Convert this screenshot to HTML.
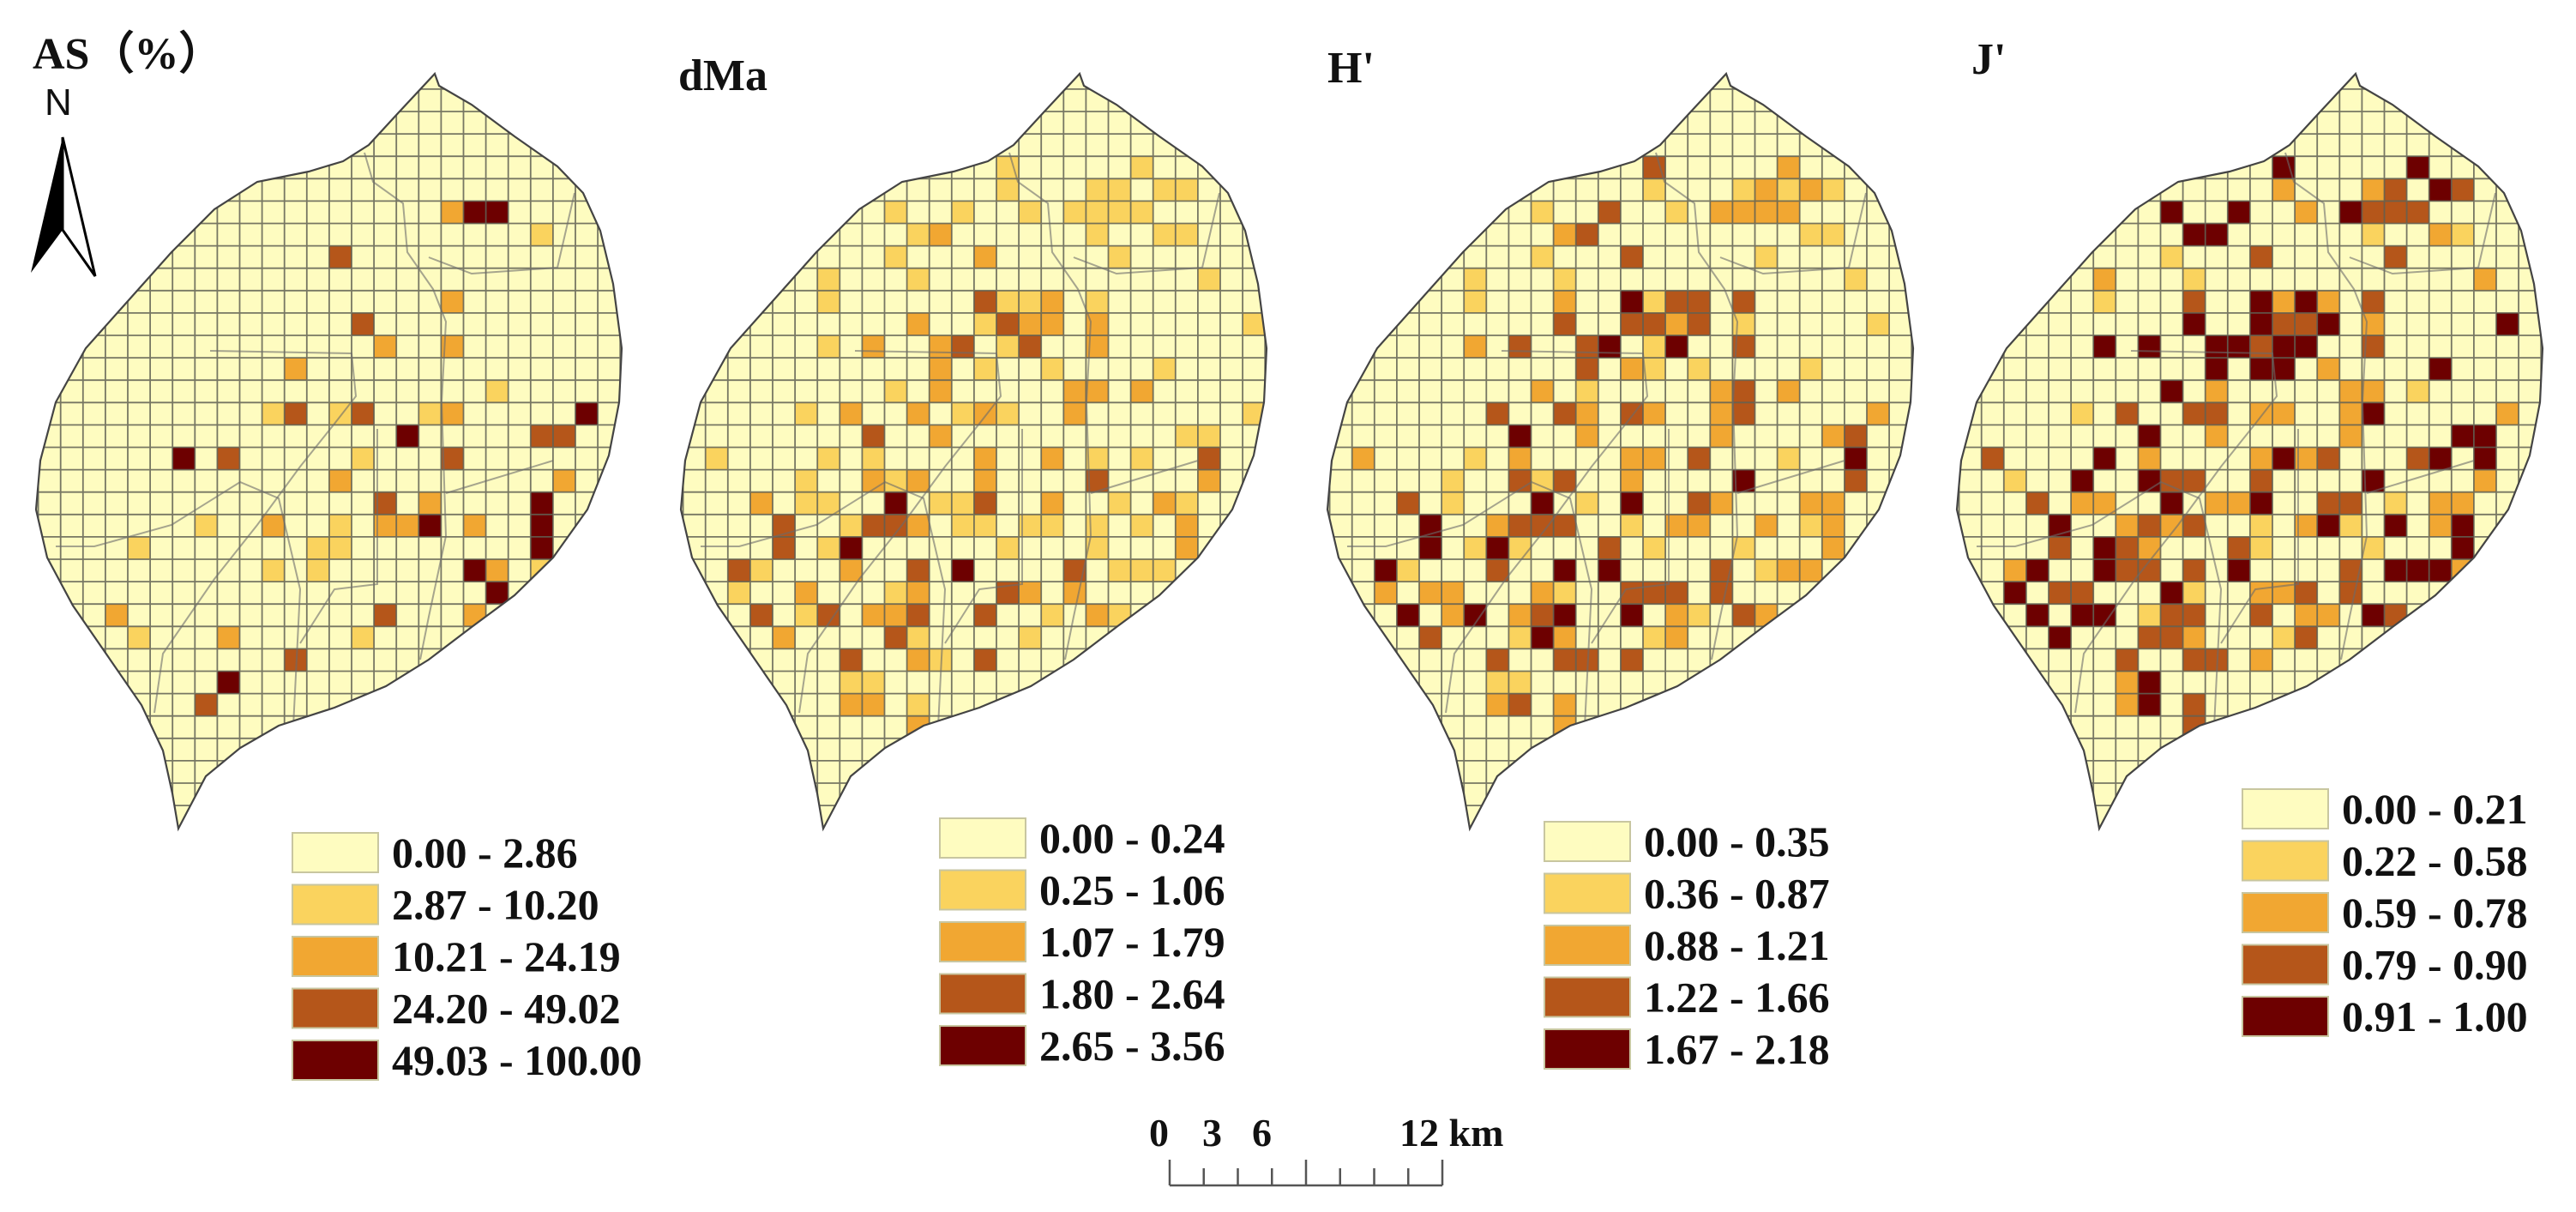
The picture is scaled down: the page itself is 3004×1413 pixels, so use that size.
<!DOCTYPE html>
<html><head><meta charset="utf-8"><title>Grid maps</title>
<style>html,body{margin:0;padding:0;background:#fff}svg{display:block}
text{font-family:"Liberation Serif",serif;font-weight:bold;fill:#111}</style></head>
<body>
<svg id="fig" xmlns="http://www.w3.org/2000/svg" width="3004" height="1413" viewBox="0 0 3004 1413">
<rect width="3004" height="1413" fill="#fff"/>
<g id="maps"></g>
<g id="legends"></g>
<g>
<text x="52" y="134" style="font-family:'Liberation Sans',sans-serif;font-weight:normal;font-size:44px">N</text>
<polygon points="73,160 36,318 73,268" fill="#000"/>
<polygon points="73,160 111,322 73,268" fill="#fff" stroke="#000" stroke-width="3"/>
</g>
<g>
<text x="1340" y="1336" font-size="46">0</text>
<text x="1402" y="1336" font-size="46">3</text>
<text x="1460" y="1336" font-size="46">6</text>
<text x="1632" y="1336" font-size="46">12 km</text>
<g id="scaleTicks" stroke="#555" stroke-width="2.5"></g>
</g>
</svg>
<script>
// ---- data ----
const mapTitles = ["AS\uFF08%\uFF09", "dMa", "H'", "J'"];
const classColors = ["#fefcc0", "#fad35e", "#f1a732", "#b5561a", "#6d0000"];
const asBreaks = ["0.00 - 2.86", "2.87 - 10.20", "10.21 - 24.19", "24.20 - 49.02", "49.03 - 100.00"];
const dmaBreaks = ["0.00 - 0.24", "0.25 - 1.06", "1.07 - 1.79", "1.80 - 2.64", "2.65 - 3.56"];
const hBreaks = ["0.00 - 0.35", "0.36 - 0.87", "0.88 - 1.21", "1.22 - 1.66", "1.67 - 2.18"];
const jBreaks = ["0.00 - 0.21", "0.22 - 0.58", "0.59 - 0.78", "0.79 - 0.90", "0.91 - 1.00"];
const scaleTickKm = [0, 1.5, 3, 4.5, 6, 7.5, 9, 10.5, 12];
// cells: [row, col, class]
const asCells = [[4,17,2],[4,18,4],[4,19,4],[5,21,1],[6,12,3],[8,17,2],[9,13,3],[10,14,2],[10,17,2],[11,10,2],[12,19,1],[13,9,1],[13,10,3],[13,12,1],[13,13,3],[13,16,1],[13,17,2],[13,23,4],[14,15,4],[14,21,3],[14,22,3],[15,5,4],[15,7,3],[15,13,1],[15,17,3],[16,12,2],[16,22,2],[17,14,3],[17,16,2],[17,21,4],[18,21,4],[19,21,4],[18,6,1],[18,9,2],[18,12,1],[18,14,2],[18,15,2],[18,16,4],[18,18,2],[19,3,1],[19,11,1],[19,12,1],[20,9,1],[20,11,1],[20,18,4],[20,19,2],[20,21,1],[21,19,4],[22,2,2],[22,14,3],[22,18,2],[23,3,1],[23,7,2],[23,13,1],[24,10,3],[25,7,4],[26,6,3]];
const dmaCells = [[2,13,1],[2,19,1],[3,13,1],[3,17,1],[3,18,1],[3,20,1],[3,21,1],[4,8,1],[4,11,1],[4,14,1],[4,16,1],[4,17,1],[4,18,1],[4,19,1],[5,9,1],[5,10,2],[5,17,1],[5,20,1],[5,21,1],[6,8,1],[6,12,2],[6,18,1],[7,5,1],[7,9,1],[7,22,1],[8,5,1],[8,12,3],[8,13,1],[8,14,1],[8,15,2],[8,17,1],[9,9,2],[9,12,1],[9,13,3],[9,14,2],[9,15,2],[9,17,2],[9,24,1],[10,5,1],[10,7,2],[10,10,2],[10,11,3],[10,13,1],[10,14,3],[10,17,2],[11,10,2],[11,12,1],[11,15,1],[11,20,1],[12,8,1],[12,10,2],[12,16,2],[12,17,2],[12,19,2],[13,4,1],[13,6,2],[13,9,2],[13,11,1],[13,12,2],[13,13,1],[13,16,2],[13,24,1],[14,7,3],[14,10,2],[14,21,1],[14,22,1],[15,0,1],[15,5,1],[15,7,1],[15,12,2],[15,15,2],[15,17,1],[15,19,1],[15,22,3],[16,4,1],[16,7,2],[16,8,1],[16,9,2],[16,12,2],[16,17,3],[16,22,2],[17,2,2],[17,4,1],[17,5,1],[17,8,4],[17,10,1],[17,11,1],[17,12,3],[17,15,2],[17,18,1],[17,20,2],[17,21,1],[18,3,3],[18,6,1],[18,7,3],[18,8,3],[18,9,2],[18,11,1],[18,12,1],[18,14,1],[18,15,1],[18,17,1],[18,19,1],[18,21,2],[19,3,3],[19,5,1],[19,6,4],[19,13,1],[19,17,1],[19,21,2],[20,1,3],[20,2,1],[20,6,2],[20,9,3],[20,11,4],[20,16,3],[20,18,1],[20,19,1],[20,20,1],[21,1,1],[21,4,2],[21,8,1],[21,9,2],[21,13,3],[21,14,2],[21,16,2],[22,2,3],[22,4,1],[22,5,3],[22,7,2],[22,8,2],[22,9,3],[22,12,3],[22,15,1],[22,17,2],[22,18,1],[23,3,2],[23,8,3],[23,9,1],[23,14,1],[24,6,3],[24,9,2],[24,10,1],[24,12,3],[25,6,1],[25,7,1],[26,6,2],[26,7,2],[26,9,1],[27,9,2]];
const hCells = [[2,13,3],[2,19,2],[3,13,1],[3,17,1],[3,18,2],[3,19,1],[3,20,2],[3,21,1],[4,8,1],[4,11,3],[4,14,1],[4,16,2],[4,17,2],[4,18,2],[4,19,2],[5,9,2],[5,10,3],[5,20,1],[5,21,1],[6,8,1],[6,12,3],[6,18,1],[7,5,1],[7,9,1],[7,22,1],[8,5,1],[8,9,2],[8,12,4],[8,13,1],[8,14,3],[8,15,3],[8,17,3],[9,9,3],[9,12,3],[9,13,3],[9,14,2],[9,15,3],[9,17,1],[9,23,1],[10,5,2],[10,7,3],[10,10,3],[10,11,4],[10,13,1],[10,14,4],[10,17,3],[11,10,3],[11,12,2],[11,13,1],[11,15,1],[11,20,1],[12,8,2],[12,10,1],[12,16,2],[12,17,3],[12,19,2],[13,6,3],[13,9,3],[13,10,2],[13,12,3],[13,13,2],[13,16,2],[13,17,3],[13,23,2],[14,7,4],[14,10,2],[14,16,2],[14,21,2],[14,22,3],[15,0,2],[15,5,1],[15,7,2],[15,12,2],[15,13,2],[15,15,3],[15,19,1],[15,22,4],[16,4,1],[16,7,3],[16,8,1],[16,9,3],[16,12,2],[16,17,4],[16,22,3],[17,2,3],[17,4,1],[17,8,4],[17,10,1],[17,12,4],[17,15,3],[17,16,2],[17,20,2],[17,21,2],[18,3,4],[18,6,2],[18,7,3],[18,8,3],[18,9,3],[18,12,1],[18,14,2],[18,15,2],[18,18,2],[18,20,1],[18,21,2],[19,3,4],[19,5,1],[19,6,4],[19,7,1],[19,11,3],[19,13,1],[19,17,1],[19,21,2],[20,1,4],[20,2,1],[20,6,3],[20,9,4],[20,11,4],[20,16,3],[20,18,1],[20,19,2],[20,20,2],[21,1,2],[21,3,2],[21,4,2],[21,8,2],[21,9,1],[21,12,3],[21,13,3],[21,14,3],[21,16,3],[22,2,4],[22,4,2],[22,5,4],[22,7,2],[22,8,3],[22,9,4],[22,12,4],[22,14,2],[22,15,1],[22,17,3],[22,18,2],[23,3,3],[23,7,1],[23,8,4],[23,9,2],[23,13,1],[23,14,2],[24,6,3],[24,9,3],[24,10,3],[24,12,3],[25,6,1],[25,7,1],[26,6,2],[26,7,3],[26,9,2],[27,9,2]];
const jCells = [[2,13,4],[2,19,4],[3,13,2],[3,17,2],[3,18,3],[3,20,4],[3,21,3],[4,8,4],[4,11,4],[4,14,2],[4,16,4],[4,17,3],[4,18,3],[4,19,3],[5,9,4],[5,10,4],[5,17,1],[5,20,2],[5,21,1],[6,8,1],[6,12,3],[6,18,3],[7,5,2],[7,9,1],[7,22,2],[8,5,1],[8,9,3],[8,12,4],[8,13,2],[8,14,4],[8,15,2],[8,17,3],[9,9,4],[9,12,4],[9,13,3],[9,14,3],[9,15,4],[9,17,2],[9,23,4],[10,5,4],[10,7,4],[10,10,4],[10,11,4],[10,12,3],[10,13,4],[10,14,4],[10,17,3],[11,10,4],[11,12,4],[11,13,4],[11,15,2],[11,20,4],[12,8,4],[12,10,2],[12,16,2],[12,17,2],[12,19,1],[13,4,1],[13,6,3],[13,9,3],[13,10,3],[13,12,2],[13,13,2],[13,16,2],[13,17,4],[13,23,2],[14,7,4],[14,10,2],[14,16,2],[14,21,4],[14,22,4],[15,0,3],[15,5,4],[15,7,2],[15,12,2],[15,13,4],[15,14,2],[15,15,3],[15,19,3],[15,20,4],[15,22,4],[16,1,1],[16,4,4],[16,7,4],[16,8,3],[16,9,3],[16,12,3],[16,17,4],[16,22,2],[17,2,3],[17,4,2],[17,5,2],[17,8,4],[17,10,2],[17,11,2],[17,12,4],[17,15,3],[17,16,3],[17,18,1],[17,20,2],[17,21,2],[18,3,4],[18,6,2],[18,7,3],[18,8,2],[18,9,3],[18,12,1],[18,14,2],[18,15,4],[18,16,1],[18,18,4],[18,20,2],[18,21,4],[19,3,3],[19,5,4],[19,6,3],[19,7,2],[19,11,3],[19,12,1],[19,17,1],[19,21,4],[20,1,2],[20,2,4],[20,5,4],[20,6,3],[20,7,3],[20,9,3],[20,11,4],[20,16,3],[20,18,4],[20,19,4],[20,20,4],[20,21,2],[21,1,4],[21,3,3],[21,4,3],[21,8,4],[21,9,1],[21,12,2],[21,13,2],[21,14,3],[21,16,3],[22,2,4],[22,4,4],[22,5,4],[22,7,1],[22,8,3],[22,9,3],[22,12,3],[22,14,2],[22,15,2],[22,17,4],[22,18,3],[23,3,4],[23,7,3],[23,8,3],[23,9,2],[23,13,1],[23,14,3],[24,6,3],[24,9,3],[24,10,3],[24,12,2],[25,6,2],[25,7,4],[26,6,2],[26,7,4],[26,9,3],[27,9,3]];

// ---- geometry (not data) ----
const NS = "http://www.w3.org/2000/svg";
const X0 = 70.7, Y0 = 130, CW = 26.1, CH = 26.1;
function xOf(c){ return X0 + c*CW; }
function yOf(r){ return Y0 + r*CH; }
const mapOffsets = [0, 752, 1506, 2240];
const titlePos = [[38,80],[791-752,105],[1548-1506,96],[2299-2240,86]];
const outline = "M507,86 L512,100 550,122 600,159 650,194 680,225 700,269 715,331 725,406 722,469 710,531 685,594 645,650 600,694 550,731 500,769 450,800 390,825 325,846 280,872 240,905 208,966 201,925 190,875 165,822 125,764 85,706 55,650 42,594 47,537 65,469 100,406 150,350 200,294 250,244 300,212 360,200 400,188 430,169 465,131 Z";
const bounds = ["M425,178 435,212 470,237 475,294 505,337 520,375 515,469 520,625 500,719 490,769",
 "M245,409 410,412 415,462 390,494 350,544 300,612 250,675 190,762 180,831",
 "M65,637 110,637 200,612 280,562 325,581 350,687 340,887",
 "M500,300 550,319 650,312 670,225",
 "M440,500 440,681 390,687 350,750",
 "M520,575 645,537"];
const allCells = [asCells, dmaCells, hCells, jCells];
const allBreaks = [asBreaks, dmaBreaks, hBreaks, jBreaks];
const legendPos = [[341,971,60.5],[1096,954,60.5],[1801,958,60.5],[2615,920,60.5]];
const mapNames = ["as","dma","h","j"];

function mk(tag, attrs, parent){
  const e = document.createElementNS(NS, tag);
  for (const k in attrs) e.setAttribute(k, attrs[k]);
  parent.appendChild(e); return e;
}
const mapsG = document.getElementById("maps");
const defs = mk("defs", {}, mapsG);
const cp = mk("clipPath", {id:"leafclip"}, defs);
mk("path", {d: outline}, cp);

mapOffsets.forEach((ox, m) => {
  const g = mk("g", {transform:`translate(${ox},0)`}, mapsG);
  
  
  const t = mk("text", {x: titlePos[m][0], y: titlePos[m][1], "font-size": 52}, g);
  t.textContent = mapTitles[m];
  
  
  const inner = mk("g", {"clip-path":"url(#leafclip)"}, g);
  mk("rect", {x:0, y:60, width:760, height:940, fill: classColors[0]}, inner);
  allCells[m].forEach(cell => {
    const r = mk("rect", {x: xOf(cell[1]), y: yOf(cell[0]), width: CW, height: CH, fill: classColors[cell[2]]}, inner);
    
    
  });
  let gp = "";
  for (let c = -3; c <= 27; c++) gp += `M${xOf(c)},60V1000`;
  for (let r = -3; r <= 34; r++) gp += `M0,${yOf(r)}H760`;
  mk("path", {d: gp, stroke:"#5f5f52", "stroke-width":1.8, fill:"none", opacity:0.85}, inner);
  bounds.forEach(b => mk("path", {d: b, stroke:"#6a6a6a", "stroke-width":2, fill:"none", opacity:0.6}, inner));
  const ol = mk("path", {d: outline, fill:"none", stroke:"#444", "stroke-width":2.2}, g);
  
  
});

const legG = document.getElementById("legends");
allBreaks.forEach((br, m) => {
  const [lx, ly, step] = legendPos[m];
  const g = mk("g", {}, legG);
  
  
  br.forEach((label, i) => {
    const y = ly + i*step;
    const r = mk("rect", {x: lx, y: y, width: 100, height: 46, fill: classColors[i], stroke:"#c8c6a0", "stroke-width":2}, g);
    
    
    const t = mk("text", {x: lx + 116, y: y + 40, "font-size": 50}, g);
    t.textContent = label;
    
    
  });
});

const st = document.getElementById("scaleTicks");
const sx = km => 1364 + km*(1682-1364)/12;
let sp = `M${sx(0)},1382H${sx(12)}`;
scaleTickKm.forEach(k => { const tall = (k===0||k===6||k===12); sp += `M${sx(k)},${tall?1352:1362}V1382`; });
mk("path", {d: sp, fill:"none"}, st);
</script>
</body></html>
